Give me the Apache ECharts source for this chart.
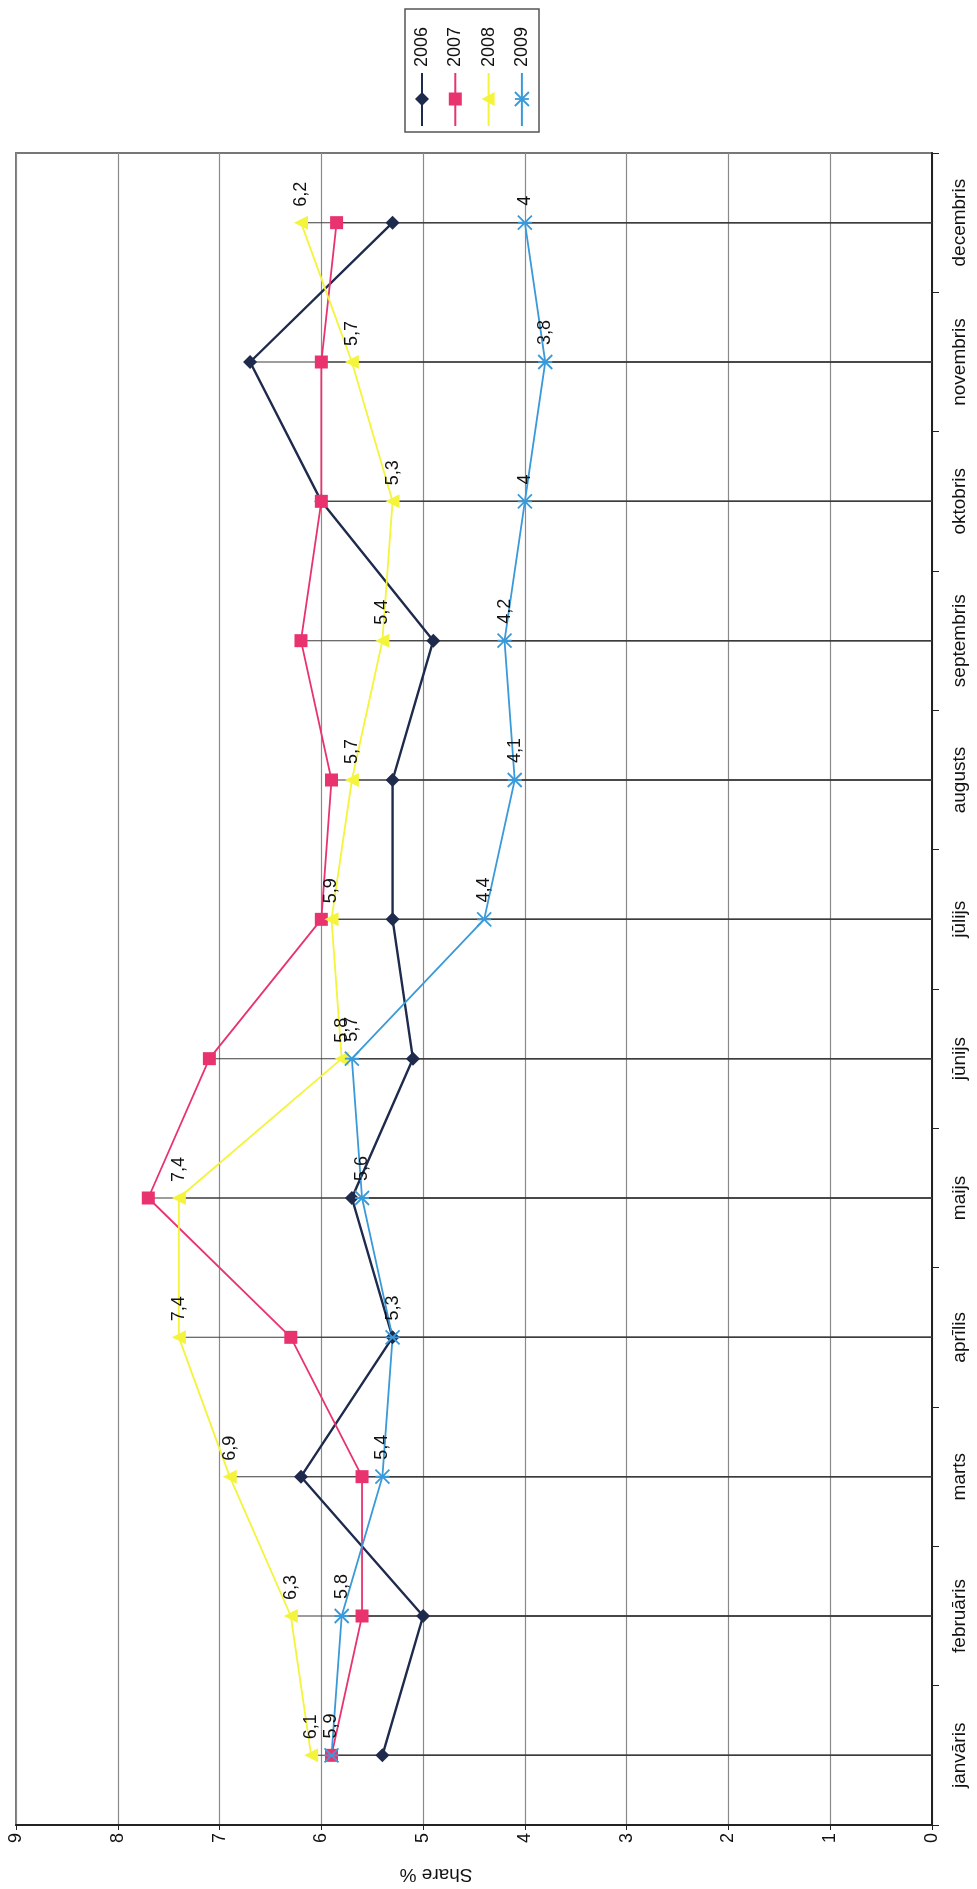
<!DOCTYPE html>
<html>
<head>
<meta charset="utf-8">
<script src="https://cdn.jsdelivr.net/npm/echarts@6/dist/echarts.min.js"></script>
<style>
html,body{margin:0;padding:0;background:#fff;}
#chart{width:977px;height:1889px;}
</style>
</head>
<body>
<div id="chart"></div>
<script>
const months = ['janvāris','februāris','marts','aprīlis','maijs','jūnijs','jūlijs','augusts','septembris','oktobris','novembris','decembris'];
const valueTicks = [0,1,2,3,4,5,6,7,8,9];
const seriesNames = ['2006','2007','2008','2009'];
const s2006 = [5.4,5.0,6.2,5.3,5.7,5.1,5.3,5.3,4.9,6.0,6.7,5.3];
const s2007 = [5.9,5.6,5.6,6.3,7.7,7.1,6.0,5.9,6.2,6.0,6.0,5.85];
const s2008 = [6.1,6.3,6.9,7.4,7.4,5.8,5.9,5.7,5.4,5.3,5.7,6.2];
const s2009 = [5.9,5.8,5.4,5.3,5.6,5.7,4.4,4.1,4.2,4.0,3.8,4.0];

const colors = ['#1f2b4d','#e8336f','#f4f43a','#3a9ad9'];
const FONT = 'Liberation Sans, Arial, sans-serif';
const starPath = 'path://M0,0L10,10M10,0L0,10M0,5L10,5';

const chart = echarts.init(document.getElementById('chart'));

const labelCfg = {
  show: true,
  position: 'top',
  rotate: 90,
  align: 'left',
  verticalAlign: 'middle',
  distance: 9,
  fontSize: 18,
  fontFamily: FONT,
  color: '#111',
  formatter: p => String(p.value).replace('.', ',')
};

function dropBar(data){
  return {type:'bar', data:data, barWidth:1, barGap:'-100%', silent:true, z:1,
    itemStyle:{color:'#3c3c3c'}, animation:false};
}

// legend drawn as graphic (rotated like the reference)
const legendEls = [{
  type:'rect', shape:{x:405, y:9, width:134, height:123},
  style:{fill:'#fff', stroke:'#555', lineWidth:1.5}, z:10
}];
const symbolsLegend = ['diamond','rect','triangle','star'];
seriesNames.forEach((n,i)=>{
  const x = 422 + 33.3*i;
  legendEls.push({type:'line', shape:{x1:x,y1:73,x2:x,y2:126}, style:{stroke:colors[i], lineWidth:2}, z:11});
  const cy = 99;
  if(symbolsLegend[i]==='diamond'){
    legendEls.push({type:'polygon', shape:{points:[[x,cy-7],[x+7,cy],[x,cy+7],[x-7,cy]]}, style:{fill:colors[i]}, z:12});
  } else if(symbolsLegend[i]==='rect'){
    legendEls.push({type:'rect', shape:{x:x-6.5,y:cy-6.5,width:13,height:13}, style:{fill:colors[i]}, z:12});
  } else if(symbolsLegend[i]==='triangle'){
    legendEls.push({type:'polygon', shape:{points:[[x-7,cy],[x+6,cy-7],[x+6,cy+7]]}, style:{fill:colors[i]}, z:12});
  } else {
    legendEls.push({type:'polyline', shape:{points:[[x-7,cy-7],[x+7,cy+7]]}, style:{stroke:colors[i], lineWidth:1.8}, z:12});
    legendEls.push({type:'polyline', shape:{points:[[x+7,cy-7],[x-7,cy+7]]}, style:{stroke:colors[i], lineWidth:1.8}, z:12});
    legendEls.push({type:'polyline', shape:{points:[[x-7,cy],[x+7,cy]]}, style:{stroke:colors[i], lineWidth:1.8}, z:12});
  }
  legendEls.push({type:'text', x:x, y:67, rotation:Math.PI/2,
    style:{text:n, x:0, y:0, align:'left', verticalAlign:'middle', fontSize:18, fontFamily:FONT, fill:'#111'}, z:12});
});

const option = {
  backgroundColor:'#fff',
  animation:false,
  grid:{left:16, right:45, top:153, bottom:63, show:true, borderColor:'#777', borderWidth:2, backgroundColor:'transparent'},
  xAxis:{
    type:'value', min:0, max:9, interval:1, inverse:true, position:'bottom',
    axisLine:{show:true, lineStyle:{color:'#222', width:2}},
    axisTick:{show:true, length:5, lineStyle:{color:'#222'}},
    axisLabel:{rotate:90, fontSize:18, fontFamily:FONT, color:'#111', margin:8,
      formatter: v => valueTicks.indexOf(v) >= 0 ? String(v) : ''},
    splitLine:{show:true, lineStyle:{color:'#8a8a8a', width:1.2}},
    name:'Share %', nameLocation:'middle', nameGap:40, nameRotate:180,
    nameTextStyle:{fontSize:19, fontFamily:FONT, color:'#111', padding:[0,0,0,76]}
  },
  yAxis:{
    type:'category', data:months, position:'right', boundaryGap:true,
    axisLine:{show:true, lineStyle:{color:'#222', width:2}},
    axisTick:{show:true, length:7, alignWithLabel:false, lineStyle:{color:'#222'}},
    axisLabel:{rotate:90, fontSize:19, fontFamily:FONT, color:'#111', margin:18},
    splitLine:{show:false}
  },
  graphic: legendEls,
  series:[
    dropBar(s2006), dropBar(s2007), dropBar(s2008), dropBar(s2009),
    {name:'2006', type:'line', data:s2006, symbol:'diamond', symbolSize:14, z:3,
      lineStyle:{color:colors[0], width:2.4}, itemStyle:{color:colors[0]}},
    {name:'2007', type:'line', data:s2007, symbol:'rect', symbolSize:13, z:3,
      lineStyle:{color:colors[1], width:1.8}, itemStyle:{color:colors[1]}},
    {name:'2008', type:'line', data:s2008, symbol:'triangle', symbolRotate:90, symbolSize:14, z:3,
      lineStyle:{color:colors[2], width:1.8}, itemStyle:{color:colors[2]}, label:labelCfg},
    {name:'2009', type:'line', data:s2009, symbol:starPath, symbolSize:14, z:3,
      lineStyle:{color:colors[3], width:1.8},
      itemStyle:{color:colors[3], borderColor:colors[3], borderWidth:1.8}, label:labelCfg}
  ]
};
chart.setOption(option);
</script>
</body>
</html>
